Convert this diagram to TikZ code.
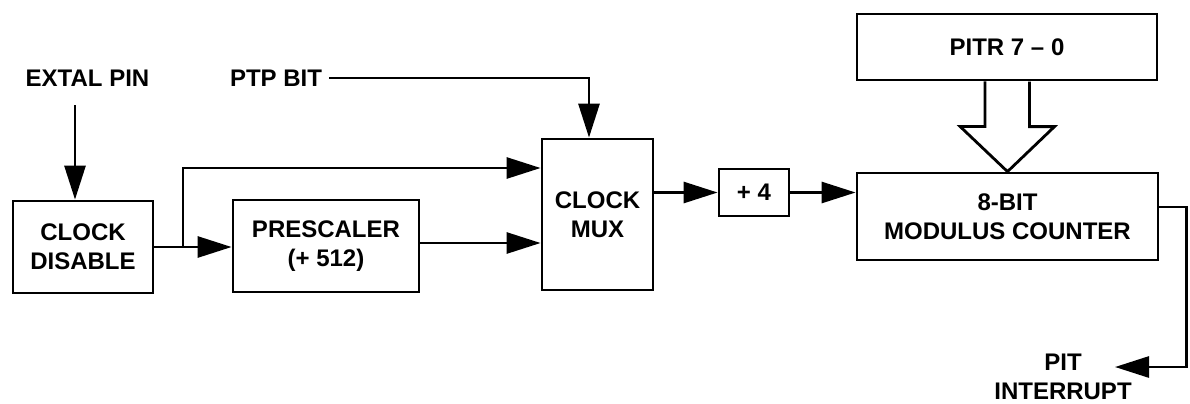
\documentclass[tikz,border=0pt]{standalone}
\usepackage{fontspec}
\setmainfont{Liberation Sans}
\usetikzlibrary{arrows.meta,calc}
\begin{document}
\begin{tikzpicture}[x=0.5pt,y=-0.5pt,line width=1.4pt,
  >={Triangle[length=17pt,width=10.5pt]},
  blk/.style={draw, align=center, inner sep=0pt},
  lbl/.style={align=center, inner sep=0pt},
  every node/.style={font=\fontsize{12}{14.5}\selectfont\bfseries}]
\useasboundingbox (0,0) rectangle (1190,403);
\node[blk, minimum width=70pt, minimum height=46pt] (clkdis) at (83,247) {CLOCK\\DISABLE};
\node[blk, minimum width=93pt, minimum height=46pt] (presc) at (326,246) {PRESCALER\\(+ 512)};
\node[blk, minimum width=55.5pt, minimum height=75.5pt] (mux) at (597.5,214.5) {CLOCK\\MUX};
\node[blk, minimum width=35pt, minimum height=23.5pt] (div4) at (754,192.5) {+ 4};
\node[blk, minimum width=150.5pt, minimum height=43.5pt] (counter) at (1007.5,216.5) {8-BIT\\MODULUS COUNTER};
\node[blk, minimum width=150pt, minimum height=33pt] (pitr) at (1007,47) {PITR 7 -- 0};
\node[lbl] (extal) at (87.5,78) {EXTAL PIN};
\node[lbl] (ptp) at (276,78) {PTP BIT};
\node[lbl] (pit) at (1063,377) {PIT\\INTERRUPT};
\coordinate (extin) at (75,105);
\coordinate (br) at (183,247);
\coordinate (muxhi) at ([yshift=23.25pt]mux.west);
\coordinate (muxlo) at ([yshift=-14.25pt]mux.west);
\coordinate (pitin) at (1115,367);
% clock path
\draw[->] (extin) -- (extin |- clkdis.north);
\draw[->] (clkdis.east |- br) -- (presc.west |- br);
\draw[->] (br) |- (muxhi);
\draw[->] (presc.east |- muxlo) -- (muxlo);
\draw[->] ([xshift=3pt]ptp.east) -| ($(mux.north)+(-8.5,0)$);
\draw[->] (mux.east |- div4) -- (div4.west);
\draw[->] (div4.east) -- (div4 -| counter.west);
% bus from PITR
\draw (pitr.south) ++(-22,0) -- ++(0,45) -- ++(-25,0) -- (counter.north)
  -- ++(47,-45) -- ++(-25,0) -- ++(0,-45);
% interrupt out
\draw[->] ([yshift=4.75pt]counter.east) -- ++(27,0) |- (pitin);
\end{tikzpicture}
\end{document}
